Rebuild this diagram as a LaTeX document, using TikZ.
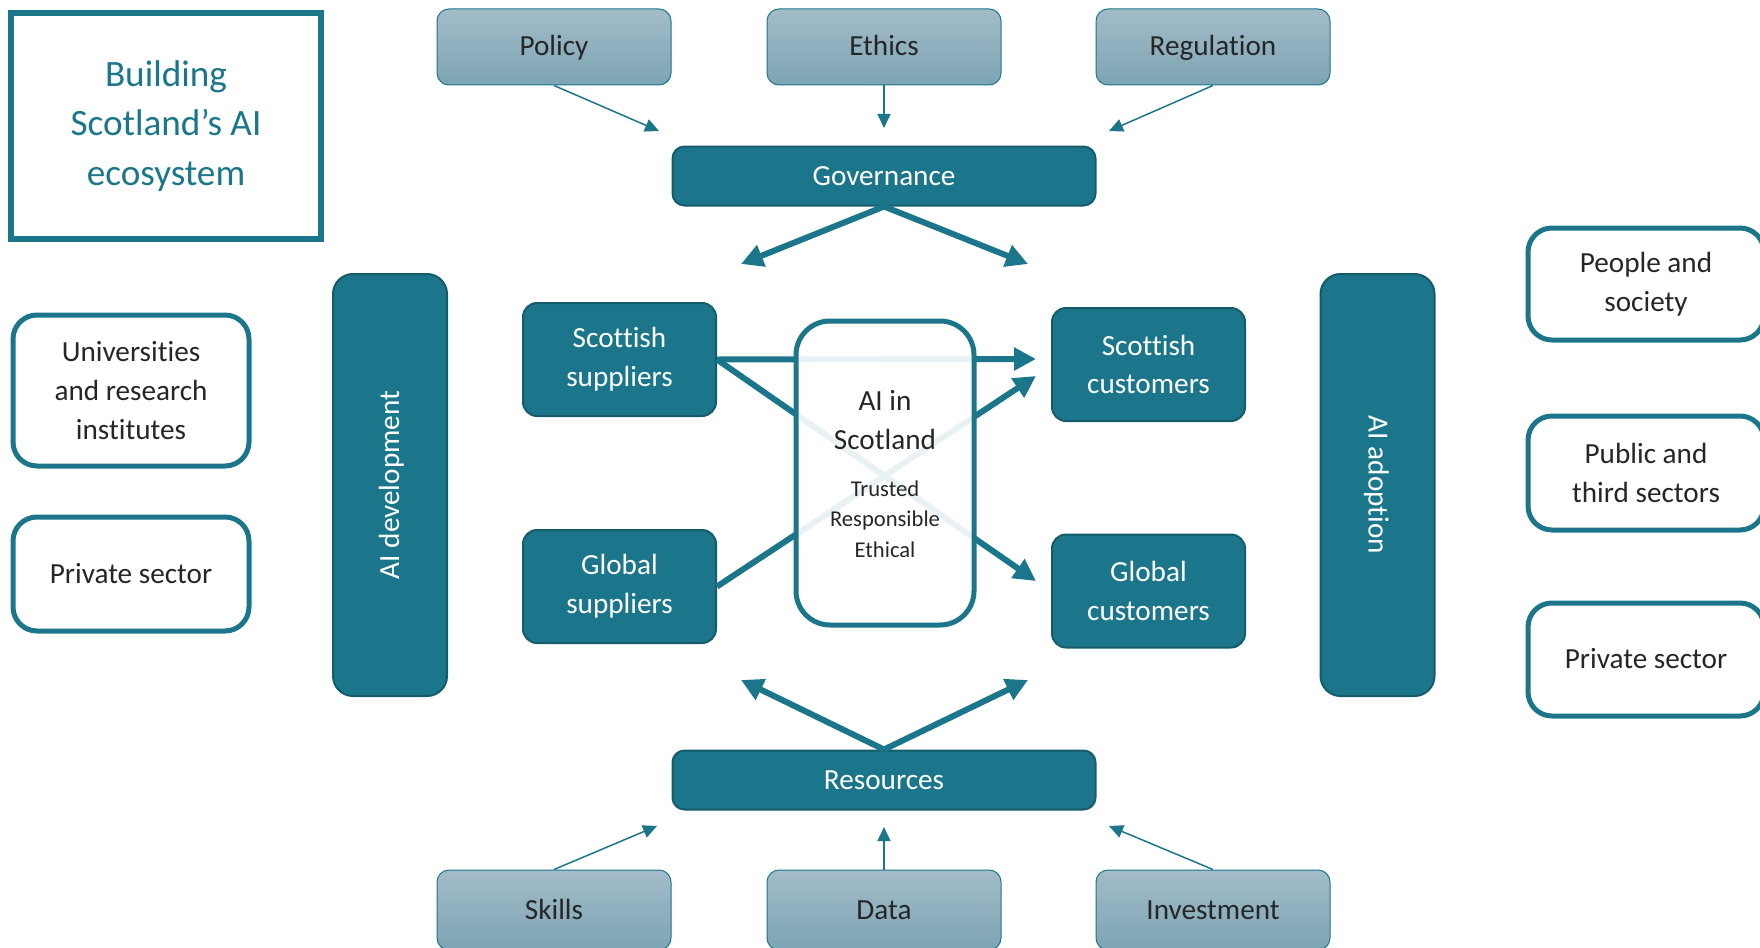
\documentclass[tikz,border=0pt]{standalone}
\usepackage{fontspec}
\setmainfont{Carlito}[Ligatures={TeX,NoCommon}]
\usetikzlibrary{arrows.meta}
\definecolor{aiteal}{RGB}{27,118,139}
\definecolor{aiedge}{RGB}{20,92,108}
\definecolor{greytop}{RGB}{162,188,200}
\definecolor{greybot}{RGB}{125,164,180}
\definecolor{inktext}{RGB}{38,38,38}

\begin{document}
\begin{tikzpicture}[x=0.5pt, y=-0.5pt,
  every node/.style = {align=center, inner sep=0pt, font=\fontsize{14.6}{19.4}\selectfont},
  oneline/.style = {text height=11.5pt, text depth=2.5pt},
  darkbox/.style = {rectangle, rounded corners=6pt, fill=aiteal, draw=aiedge, line width=1pt, text=white},
  tradebox/.style = {darkbox, rounded corners=7pt, minimum width=96.5pt, minimum height=56.5pt},
  pillarbox/.style = {darkbox, oneline, rounded corners=10pt, minimum width=211pt, minimum height=57pt},
  greybox/.style = {rectangle, oneline, rounded corners=6pt, top color=greytop, bottom color=greybot,
    draw=aiteal, line width=0.5pt, text=inktext, minimum width=117pt, minimum height=38pt},
  whitebox/.style = {rectangle, rounded corners=12pt, fill=white, draw=aiteal, line width=2.5pt,
    text=inktext, minimum width=118pt},
  thinarrow/.style = {draw=aiteal, line width=0.75pt, -{Triangle[length=7pt, width=6.5pt]}},
  thickarrow/.style = {draw=aiteal, line width=3pt, -{Triangle[length=11pt, width=11pt]}}]

  \useasboundingbox (0,0) rectangle (1760,947);

  \node[rectangle, draw=aiteal, line width=3pt, minimum width=155pt, minimum height=113pt,
    text=aiteal, font=\fontsize{18.6}{24.7}\selectfont] (title) at (166,126) {Building\\Scotland’s AI\\ecosystem};

  \node[greybox] (policy) at (554,47) {Policy};
  \node[greybox] (ethics) at (884,47) {Ethics};
  \node[greybox] (regulation) at (1213,47) {Regulation};
  \node[darkbox, oneline, minimum width=211.5pt, minimum height=29.5pt] (gov) at (884,176) {Governance};

  \node[darkbox, oneline, minimum width=211.5pt, minimum height=29.5pt] (res) at (884,780) {Resources};
  \node[greybox, minimum height=40pt] (skills) at (554,910) {Skills};
  \node[greybox, minimum height=40pt] (data) at (884,910) {Data};
  \node[greybox, minimum height=40pt] (investment) at (1213,910) {Investment};

  \node[whitebox, minimum height=75.5pt] (unis) at (131,390.5) {Universities\\and research\\institutes};
  \node[whitebox, oneline, minimum height=57pt] (privdev) at (131,574) {Private sector};
  \node[pillarbox, rotate=90] (dev) at (390,485) {AI development};

  \node[pillarbox, rotate=-90] (adopt) at (1377.5,485) {AI adoption};
  \node[whitebox, minimum height=56pt] (people) at (1646,284) {People and\\society};
  \node[whitebox, minimum height=57pt] (public) at (1646,473) {Public and\\third sectors};
  \node[whitebox, oneline, minimum height=56.5pt] (privadopt) at (1646,659.5) {Private sector};

  \node[tradebox] (ss) at (619.5,359.5) {Scottish\\suppliers};
  \node[tradebox] (gs) at (619.5,586.5) {Global\\suppliers};
  \node[tradebox] (sc) at (1148.5,364.5) {Scottish\\customers};
  \node[tradebox] (gc) at (1148.5,591) {Global\\customers};

  \coordinate (polEnd) at (659,131);
  \coordinate (ethEnd) at (884,128);
  \coordinate (regEnd) at (1109,131);
  \coordinate (govL) at (741,264);
  \coordinate (govR) at (1028,264);
  \coordinate (resL) at (741,680);
  \coordinate (resR) at (1028,680);
  \coordinate (skiEnd) at (657,826);
  \coordinate (datEnd) at (884,827);
  \coordinate (invEnd) at (1109,826);
  \coordinate (scTop) at (1036,359);
  \coordinate (scLow) at (1036,376);
  \coordinate (gcTop) at (1036,581);

  \draw[thinarrow] (policy.south) -- (polEnd);
  \draw[thinarrow] (ethics.south) -- (ethEnd);
  \draw[thinarrow] (regulation.south) -- (regEnd);
  \draw[thinarrow] (skills.north) -- (skiEnd);
  \draw[thinarrow] (data.north) -- (datEnd);
  \draw[thinarrow] (investment.north) -- (invEnd);
  \draw[thickarrow] (gov.south) -- (govL);
  \draw[thickarrow] (gov.south) -- (govR);
  \draw[thickarrow] (res.north) -- (resL);
  \draw[thickarrow] (res.north) -- (resR);
  \draw[thickarrow] (ss.east) -- (scTop);
  \draw[thickarrow] (ss.east) -- (gcTop);
  \draw[thickarrow] (gs.east) -- (scLow);

  \node[rectangle, rounded corners=17pt, draw=aiteal, line width=2.5pt, fill=white,
    fill opacity=0.9, text opacity=1, minimum width=89pt, minimum height=152pt] (aisc) at (885,473) {};
  \node[text=inktext] (aiscname) at (885,420) {AI in\\Scotland};
  \node[text=inktext, font=\fontsize{11.3}{15.2}\selectfont] (aiscvalues) at (885,519) {Trusted\\Responsible\\Ethical};
\end{tikzpicture}
\end{document}
